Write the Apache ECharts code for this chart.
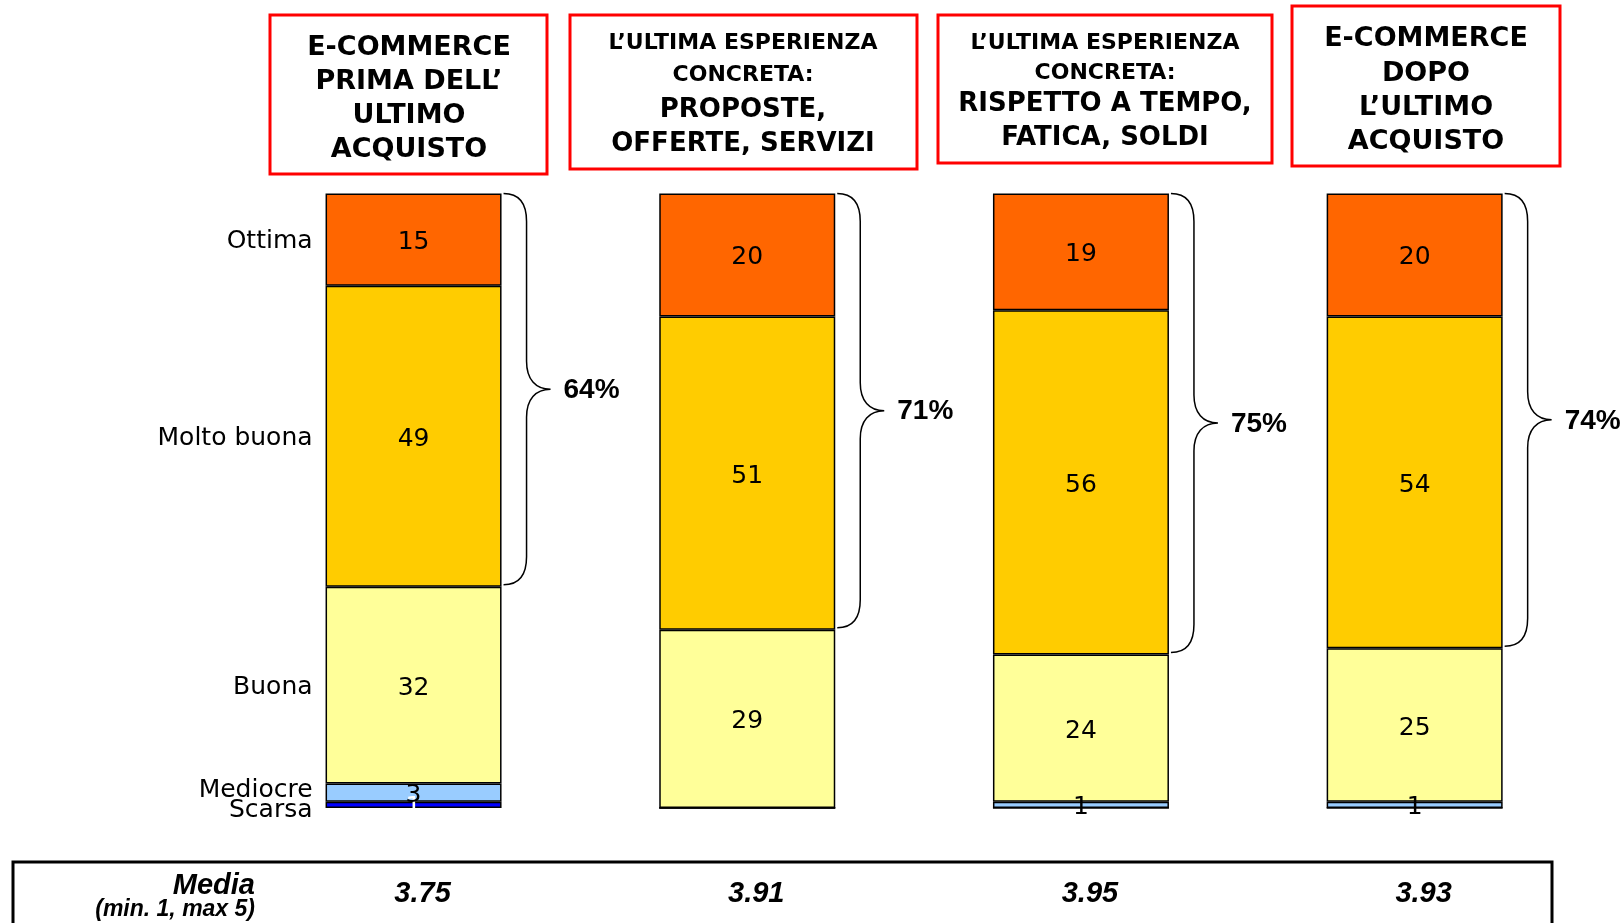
<!DOCTYPE html>
<html lang="it">
<head>
    <meta charset="UTF-8">
    <title>Valutazione e-commerce</title>
    <script src="https://cdn.jsdelivr.net/npm/echarts@6/dist/echarts.min.js"></script>
    <style>
        html, body { margin: 0; padding: 0; background: #fff; }
        #main { width: 1623px; height: 923px; }
    </style>
</head>
<body>
<div id="main"></div>
<script>
    // dati (valori in %)
    var colonne = ['prima', 'proposte', 'rispetto', 'dopo'];
    var livelli = ['Scarsa', 'Mediocre', 'Buona', 'Molto buona', 'Ottima'];
    var scarsa = [1, 0, 0, 0];
    var mediocre = [3, 0, 1, 1];
    var buona = [32, 29, 24, 25];
    var moltoBuona = [49, 51, 56, 54];
    var ottima = [15, 20, 19, 20];
    var positivi = [64, 71, 75, 74];
    var media = ['3.75', '3.91', '3.95', '3.93'];
    var titoli = [
        ['E-COMMERCE', 'PRIMA DELL\u2019', 'ULTIMO', 'ACQUISTO'],
        ['L\u2019ULTIMA ESPERIENZA', 'CONCRETA:', 'PROPOSTE,', 'OFFERTE, SERVIZI'],
        ['L\u2019ULTIMA ESPERIENZA', 'CONCRETA:', 'RISPETTO A TEMPO,', 'FATICA, SOLDI'],
        ['E-COMMERCE', 'DOPO', 'L\u2019ULTIMO', 'ACQUISTO']
    ];

    var colori = ['#0000ff', '#99ccff', '#ffff99', '#ffcc00', '#ff6600'];
    var coloriEtichette = ['#ffffff', '#000', '#000', '#000', '#000'];
    var serieLivelli = [scarsa, mediocre, buona, moltoBuona, ottima];

    var myChart = echarts.init(document.getElementById('main'), null, { renderer: 'canvas' });

    function serieBarre(k) {
        return {
            name: livelli[k],
            type: 'bar',
            stack: 'totale',
            data: serieLivelli[k],
            barWidth: 176,
            silent: true,
            itemStyle: { color: colori[k], borderColor: '#000', borderWidth: 1.5 },
            label: {
                show: true,
                position: 'inside',
                offset: [0, 3],
                color: coloriEtichette[k],
                fontFamily: 'DejaVu Sans',
                fontSize: 25,
                formatter: function (p) { return p.value > 0 ? String(p.value) : ''; }
            }
        };
    }

    var series = [];
    for (var k = 0; k < livelli.length; k++) {
        series.push(serieBarre(k));
    }

    // graffe con la somma Ottima + Molto buona
    series.push({
        type: 'custom',
        silent: true,
        data: colonne.map(function (c, i) {
            return [i, scarsa[i] + mediocre[i] + buona[i], 100, positivi[i]];
        }),
        renderItem: function (params, api) {
            var alto = api.coord([api.value(0), api.value(2)]);
            var basso = api.coord([api.value(0), api.value(1)]);
            var x0 = alto[0] + 88 + 2, x1 = x0 + 23, x2 = x1 + 24;
            var yT = alto[1], yB = basso[1] - 2, yM = (yT + yB) / 2, r = 28;
            var d = 'M' + x0 + ' ' + yT +
                ' C' + (x0 + 16) + ' ' + yT + ' ' + x1 + ' ' + (yT + 10) + ' ' + x1 + ' ' + (yT + r) +
                ' L' + x1 + ' ' + (yM - r) +
                ' C' + x1 + ' ' + (yM - 10) + ' ' + (x1 + 9) + ' ' + yM + ' ' + x2 + ' ' + yM +
                ' C' + (x1 + 9) + ' ' + yM + ' ' + x1 + ' ' + (yM + 10) + ' ' + x1 + ' ' + (yM + r) +
                ' L' + x1 + ' ' + (yB - r) +
                ' C' + x1 + ' ' + (yB - 10) + ' ' + (x0 + 16) + ' ' + yB + ' ' + x0 + ' ' + yB;
            return {
                type: 'group',
                children: [
                    {
                        type: 'path',
                        shape: { pathData: d },
                        style: { fill: 'none', stroke: '#000', lineWidth: 1.5 }
                    },
                    {
                        type: 'text',
                        x: x2 + 13,
                        y: yM + 1,
                        style: {
                            text: api.value(3) + '%',
                            fill: '#000',
                            font: 'bold 28px "Liberation Sans"',
                            align: 'left',
                            verticalAlign: 'middle'
                        }
                    }
                ]
            };
        }
    });

    var option = {
        animation: false,
        grid: { left: 246.7, width: 1334.8, top: 193.5, height: 614.5 },
        xAxis: { type: 'category', data: colonne, show: false },
        yAxis: { type: 'value', min: 0, max: 100, show: false },
        series: series
    };
    myChart.setOption(option);

    // riquadri rossi, etichette dei livelli e riga della media
    var elementi = [];
    var riquadri = [
        { x: 270, y: 15, w: 277, h: 159, cx: 409, righe: [47.5, 82, 116, 150], dim: [27, 27, 27, 27] },
        { x: 570, y: 15, w: 347, h: 154, cx: 743, righe: [43.5, 75.5, 110, 144], dim: [22, 22, 26, 26] },
        { x: 938, y: 15, w: 334, h: 148, cx: 1105, righe: [43.5, 73, 104.5, 138.5], dim: [22, 22, 26, 26] },
        { x: 1292, y: 6, w: 268, h: 160, cx: 1426, righe: [39, 73.5, 108, 142], dim: [27, 27, 27, 27] }
    ];
    riquadri.forEach(function (b, i) {
        elementi.push({
            type: 'rect',
            shape: { x: b.x, y: b.y, width: b.w, height: b.h },
            style: { fill: '#fff', stroke: '#ff0000', lineWidth: 3 }
        });
        titoli[i].forEach(function (t, j) {
            elementi.push({
                type: 'text',
                x: b.cx,
                y: b.righe[j],
                style: {
                    text: t,
                    fill: '#000',
                    font: 'bold ' + b.dim[j] + 'px "DejaVu Sans"',
                    align: 'center',
                    verticalAlign: 'middle'
                }
            });
        });
    });

    // nomi dei livelli a sinistra della prima colonna
    var spostamenti = [6, -2, 2, 2, 2];
    var cumulato = 0;
    for (var k2 = 0; k2 < livelli.length; k2++) {
        var v = serieLivelli[k2][0];
        var pt = myChart.convertToPixel({ seriesIndex: 0 }, [0, cumulato + v / 2]);
        cumulato += v;
        elementi.push({
            type: 'text',
            x: pt[0] - 88 - 13,
            y: pt[1] + spostamenti[k2],
            style: {
                text: livelli[k2],
                fill: '#000',
                font: '25px "DejaVu Sans"',
                align: 'right',
                verticalAlign: 'middle'
            }
        });
    }

    // riga della media
    elementi.push({
        type: 'rect',
        shape: { x: 13, y: 862, width: 1539, height: 120 },
        style: { fill: 'none', stroke: '#000', lineWidth: 3 }
    });
    elementi.push({
        type: 'text', x: 255, y: 886,
        style: { text: 'Media', fill: '#000', font: 'italic bold 29px "Liberation Sans"', align: 'right', verticalAlign: 'middle' }
    });
    elementi.push({
        type: 'text', x: 255, y: 910,
        style: { text: '(min. 1, max 5)', fill: '#000', font: 'italic bold 23px "Liberation Sans"', align: 'right', verticalAlign: 'middle' }
    });
    media.forEach(function (m, i) {
        var p = myChart.convertToPixel({ seriesIndex: 0 }, [i, 0]);
        elementi.push({
            type: 'text', x: p[0] + 9, y: 894,
            style: { text: m, fill: '#000', font: 'italic bold 29px "Liberation Sans"', align: 'center', verticalAlign: 'middle' }
        });
    });

    myChart.setOption({ graphic: elementi });
</script>
</body>
</html>
